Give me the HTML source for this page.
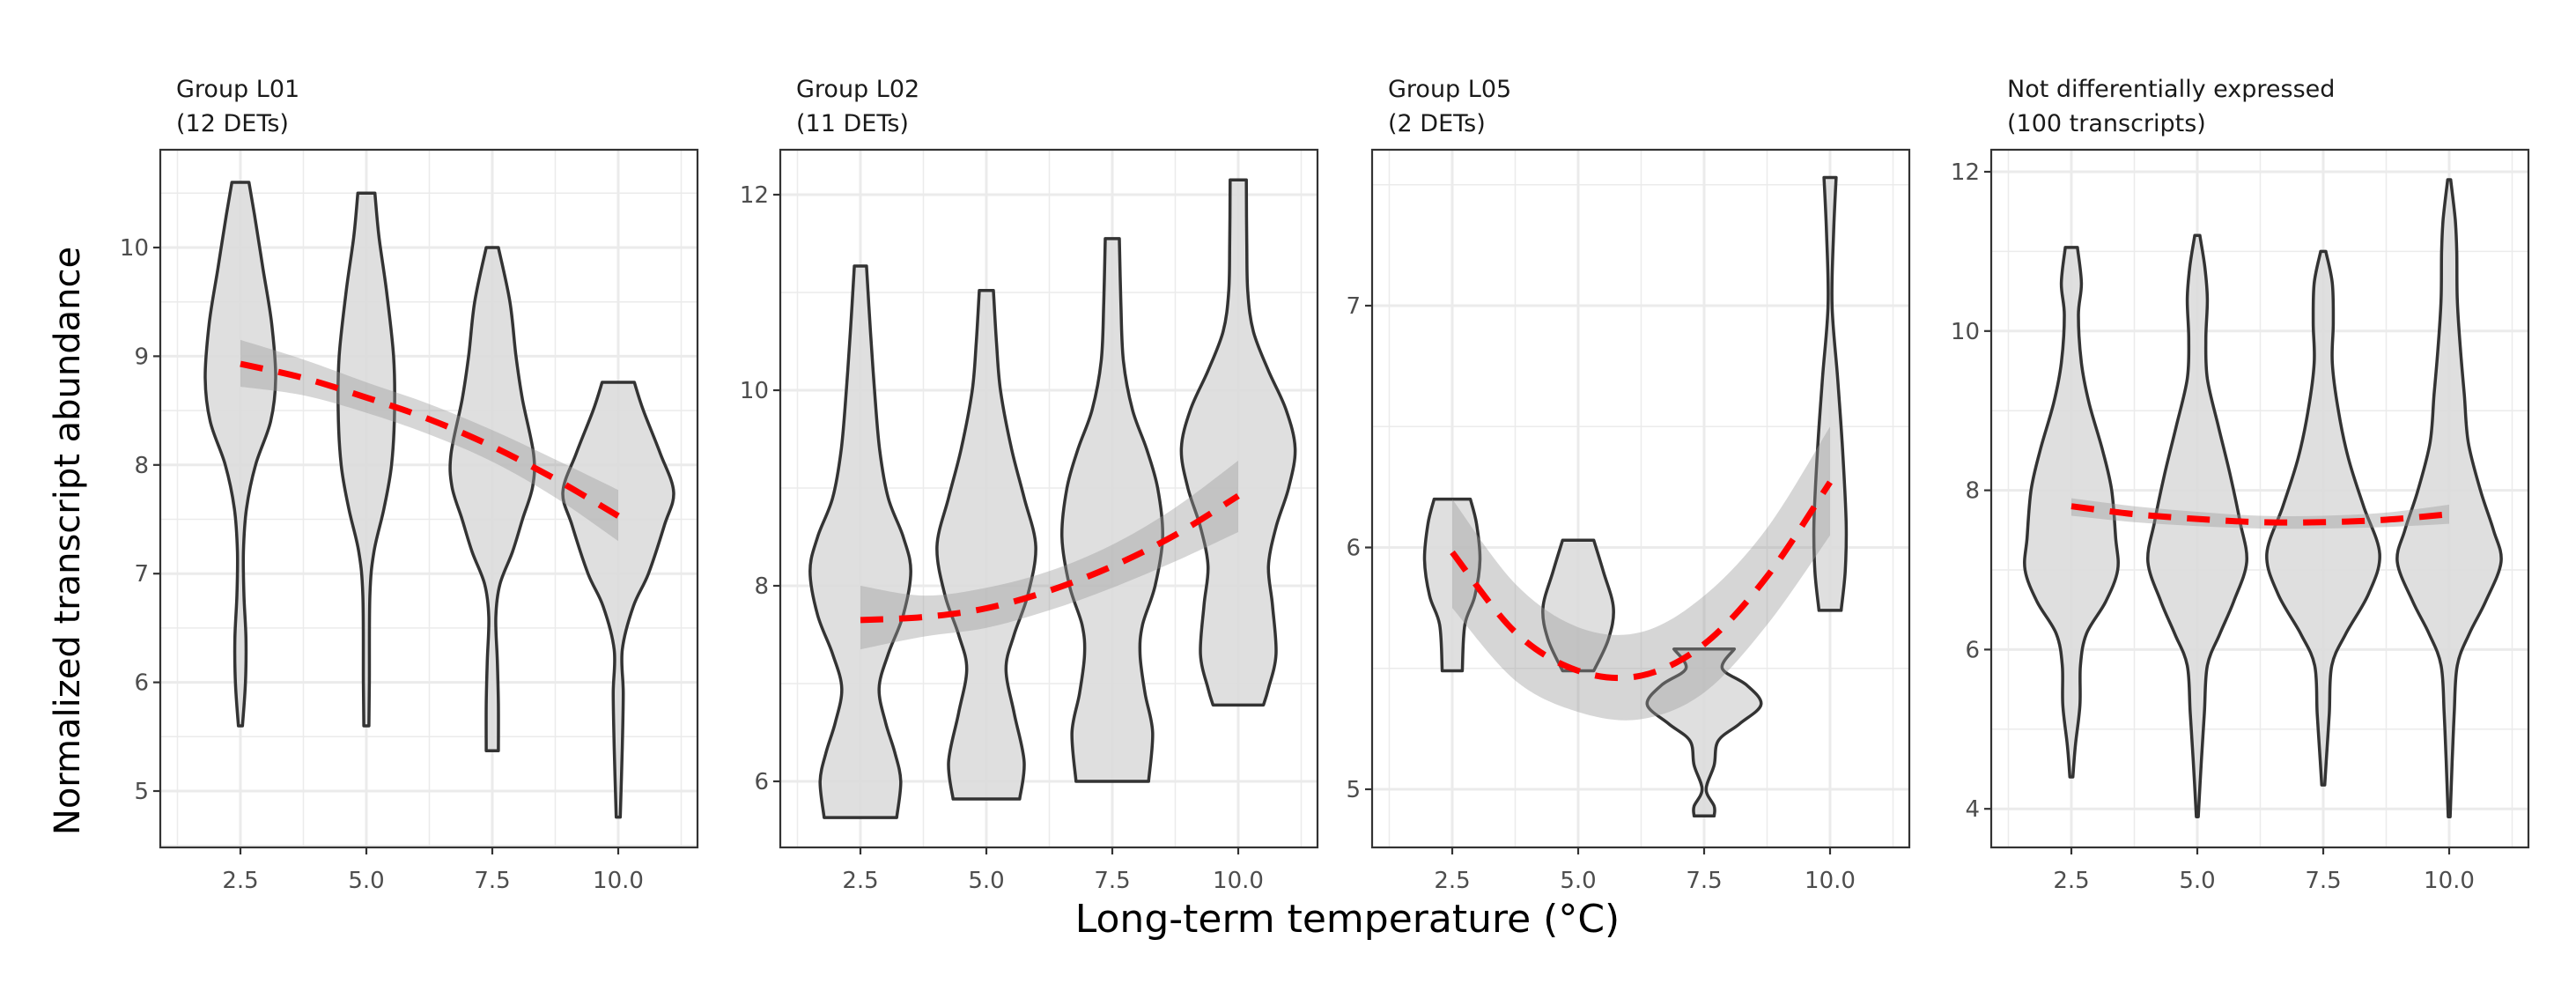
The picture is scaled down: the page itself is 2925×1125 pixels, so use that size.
<!DOCTYPE html>
<html><head><meta charset="utf-8">
<style>
html,body{margin:0;padding:0;background:#fff;}
svg{display:block;font-family:"DejaVu Sans","Liberation Sans",sans-serif;}
</style></head>
<body>
<svg id="chart" width="2925" height="1125" viewBox="0 0 2925 1125" xmlns="http://www.w3.org/2000/svg">
<rect width="2925" height="1125" fill="#fff"/>
<g id="panels"></g>
<text x="0" y="0" transform="translate(90,614) rotate(-90)" text-anchor="middle" font-size="40" fill="#000">Normalized transcript abundance</text>
<text x="1530" y="1058" text-anchor="middle" font-size="44" fill="#000">Long-term temperature (°C)</text>
</svg>
<script>
// ---- data ----
const categories = [2.5, 5.0, 7.5, 10.0];
const xTickLabels = ["2.5", "5.0", "7.5", "10.0"];
const panelTitles = [["Group L01","(12 DETs)"],["Group L02","(11 DETs)"],["Group L05","(2 DETs)"],["Not differentially expressed","(100 transcripts)"]];
const yTicks1 = [5,6,7,8,9,10];
const yTicks2 = [6,8,10,12];
const yTicks3 = [5,6,7];
const yTicks4 = [4,6,8,10,12];
// violin profiles: [value, half-width in x units]
const violins1 = [
 [[10.6,0.17],[10.3,0.28],[9.8,0.45],[9.3,0.62],[8.8,0.7],[8.4,0.6],[8.0,0.3],[7.6,0.12],[7.2,0.06],[6.8,0.07],[6.4,0.11],[6.0,0.1],[5.6,0.04]],
 [[10.5,0.17],[10.1,0.25],[9.6,0.4],[9.0,0.54],[8.5,0.56],[8.0,0.5],[7.6,0.35],[7.2,0.15],[6.8,0.07],[6.0,0.06],[5.6,0.05]],
 [[10.0,0.12],[9.5,0.35],[9.0,0.47],[8.6,0.6],[8.1,0.82],[7.8,0.8],[7.5,0.6],[7.2,0.4],[6.9,0.15],[6.6,0.07],[6.2,0.1],[5.8,0.12],[5.37,0.12]],
 [[8.76,0.32],[8.5,0.5],[8.1,0.84],[7.75,1.1],[7.45,0.92],[7.0,0.6],[6.7,0.3],[6.3,0.08],[5.9,0.1],[5.4,0.08],[4.76,0.04]]
];
const violins2 = [
 [[11.27,0.12],[10.6,0.2],[10.0,0.28],[9.4,0.38],[8.9,0.55],[8.5,0.85],[8.15,1.0],[7.7,0.85],[7.3,0.55],[6.95,0.37],[6.6,0.5],[6.3,0.68],[6.0,0.8],[5.63,0.72]],
 [[11.02,0.14],[10.5,0.2],[10.0,0.28],[9.4,0.5],[8.9,0.75],[8.4,0.98],[7.9,0.82],[7.5,0.55],[7.15,0.39],[6.7,0.55],[6.2,0.75],[5.82,0.66]],
 [[11.55,0.14],[10.9,0.17],[10.3,0.22],[9.8,0.4],[9.4,0.68],[9.0,0.9],[8.5,1.0],[8.0,0.85],[7.6,0.6],[7.3,0.55],[6.9,0.65],[6.5,0.8],[6.0,0.72]],
 [[12.15,0.16],[11.5,0.17],[11.0,0.19],[10.6,0.3],[10.2,0.6],[9.8,0.95],[9.4,1.13],[9.0,1.0],[8.6,0.75],[8.2,0.6],[7.8,0.68],[7.3,0.75],[6.95,0.6],[6.78,0.5]]
];
const violins3 = [
 [[6.2,0.36],[6.1,0.48],[5.95,0.55],[5.8,0.45],[5.68,0.25],[5.49,0.2]],
 [[6.03,0.31],[5.9,0.5],[5.75,0.7],[5.62,0.6],[5.49,0.31]],
 [[5.58,0.6],[5.5,0.36],[5.43,0.85],[5.35,1.13],[5.27,0.7],[5.2,0.28],[5.1,0.2],[5.0,0.04],[4.93,0.2],[4.89,0.2]],
 [[7.53,0.12],[7.3,0.07],[7.0,0.04],[6.7,0.15],[6.4,0.25],[6.1,0.32],[5.9,0.3],[5.74,0.22]]
];
const violins4 = [
 [[11.05,0.12],[10.6,0.2],[10.2,0.14],[9.6,0.2],[9.1,0.35],[8.5,0.62],[8.0,0.8],[7.4,0.88],[7.0,0.92],[6.6,0.68],[6.2,0.3],[5.8,0.18],[5.3,0.17],[4.8,0.08],[4.4,0.03]],
 [[11.2,0.05],[10.8,0.15],[10.4,0.2],[9.9,0.17],[9.4,0.2],[8.8,0.42],[8.2,0.65],[7.6,0.85],[7.1,0.98],[6.6,0.72],[6.2,0.45],[5.8,0.2],[5.2,0.14],[4.6,0.08],[3.9,0.02]],
 [[11.0,0.05],[10.6,0.18],[10.1,0.2],[9.6,0.18],[9.0,0.3],[8.4,0.5],[7.8,0.8],[7.2,1.12],[6.7,0.9],[6.2,0.45],[5.8,0.17],[5.2,0.12],[4.6,0.06],[4.3,0.03]],
 [[11.9,0.03],[11.4,0.12],[11.0,0.15],[10.4,0.16],[9.8,0.22],[9.2,0.3],[8.6,0.38],[8.0,0.62],[7.5,0.88],[7.1,1.03],[6.6,0.72],[6.2,0.4],[5.8,0.16],[5.2,0.1],[4.6,0.06],[3.9,0.02]]
];
const fitX = [2.5,3.75,5,6.25,7.5,8.75,10];
const fit1 = [8.93,8.8,8.62,8.42,8.17,7.87,7.53];
const lo1 = [8.72,8.64,8.48,8.28,8.03,7.7,7.3];
const hi1 = [9.15,8.97,8.76,8.56,8.32,8.05,7.77];
const fit2 = [7.65,7.68,7.77,7.95,8.2,8.52,8.92];
const lo2 = [7.35,7.48,7.57,7.75,7.98,8.25,8.55];
const hi2 = [8.0,7.9,7.98,8.15,8.42,8.8,9.28];
const fit3 = [5.98,5.65,5.49,5.47,5.6,5.88,6.27];
const lo3 = [5.75,5.45,5.32,5.29,5.4,5.68,6.05];
const hi3 = [6.2,5.85,5.67,5.65,5.8,6.08,6.5];
const fit4 = [7.8,7.7,7.64,7.6,7.6,7.63,7.7];
const lo4 = [7.68,7.6,7.55,7.52,7.52,7.54,7.58];
const hi4 = [7.9,7.8,7.73,7.68,7.68,7.72,7.82];

// ---- layout ----
const NS = "http://www.w3.org/2000/svg";
const panelsG = document.getElementById('panels');
const TOP = 170, BOTTOM = 962;
const panelDefs = [
 {left:182, right:792, yRef:10, yRefPx:281, pxPerUnit:123.4, ticks:yTicks1, minor:0.5, v:violins1, fit:fit1, lo:lo1, hi:hi1},
 {left:886, right:1496, yRef:12, yRefPx:221, pxPerUnit:111, ticks:yTicks2, minor:1, v:violins2, fit:fit2, lo:lo2, hi:hi2},
 {left:1558, right:2168, yRef:7, yRefPx:347, pxPerUnit:274.5, ticks:yTicks3, minor:0.5, v:violins3, fit:fit3, lo:lo3, hi:hi3},
 {left:2261, right:2871, yRef:12, yRefPx:195, pxPerUnit:90.4, ticks:yTicks4, minor:1, v:violins4, fit:fit4, lo:lo4, hi:hi4}
];
function mk(tag, attrs, parent){const e=document.createElementNS(NS,tag);for(const k in attrs)e.setAttribute(k,attrs[k]);parent.appendChild(e);return e;}
function smoothPath(pts){
  let d='';
  for(let i=0;i<pts.length-1;i++){
    const p0=pts[Math.max(i-1,0)],p1=pts[i],p2=pts[i+1],p3=pts[Math.min(i+2,pts.length-1)];
    const c1=[p1[0]+(p2[0]-p0[0])/6,p1[1]+(p2[1]-p0[1])/6];
    const c2=[p2[0]-(p3[0]-p1[0])/6,p2[1]-(p3[1]-p1[1])/6];
    d+=` C${c1[0].toFixed(1)},${c1[1].toFixed(1)} ${c2[0].toFixed(1)},${c2[1].toFixed(1)} ${p2[0].toFixed(1)},${p2[1].toFixed(1)}`;
  }
  return d;
}
panelDefs.forEach((P, pi) => {
  const xs = v => P.left + 91 + (v - 2.5) * 57.2;
  const ys = v => P.yRefPx + (P.yRef - v) * P.pxPerUnit;
  const g = mk('g', {}, panelsG);
  
  
  const clipId = 'clip'+pi;
  const cp = mk('clipPath',{id:clipId},g);
  mk('rect',{x:P.left,y:TOP,width:P.right-P.left,height:BOTTOM-TOP},cp);
  const grid = mk('g',{'clip-path':`url(#${clipId})`},g);
  
  
  const vmin = P.yRef - (BOTTOM - P.yRefPx)/P.pxPerUnit, vmax = P.yRef + (P.yRefPx - TOP)/P.pxPerUnit;
  for(let v=Math.ceil(vmin/P.minor)*P.minor; v<=vmax; v+=P.minor){
    const major = P.ticks.some(t=>Math.abs(t-v)<1e-6);
    mk('line',{x1:P.left,x2:P.right,y1:ys(v),y2:ys(v),stroke:'#ebebeb','stroke-width':major?3:1.5},grid);
  }
  [1.25,2.5,3.75,5,6.25,7.5,8.75,10,11.25].forEach(v=>{
    const major = categories.includes(v);
    mk('line',{x1:xs(v),x2:xs(v),y1:TOP,y2:BOTTOM,stroke:'#ebebeb','stroke-width':major?3:1.5},grid);
  });
  const marks = mk('g',{'clip-path':`url(#${clipId})`},g);
  P.v.forEach((prof, vi) => {
    const cx = xs(categories[vi]);
    const right = prof.map(p=>[cx + p[1]*57.2, ys(p[0])]);
    const left = prof.slice().reverse().map(p=>[cx - p[1]*57.2, ys(p[0])]);
    let d = `M${(cx - prof[0][1]*57.2).toFixed(1)},${ys(prof[0][0]).toFixed(1)} L${right[0][0].toFixed(1)},${right[0][1].toFixed(1)}`;
    d += smoothPath(right);
    d += ` L${left[0][0].toFixed(1)},${left[0][1].toFixed(1)}`;
    d += smoothPath(left) + ' Z';
    const path = mk('path',{d:d,fill:'#dcdcdc','fill-opacity':0.9,stroke:'#333','stroke-width':3.5,'stroke-linejoin':'round'},marks);
    
    
  });
  const hiPts = fitX.map((x,i)=>[xs(x), ys(P.hi[i])]);
  const loPts = fitX.map((x,i)=>[xs(x), ys(P.lo[i])]).reverse();
  let rd = `M${hiPts[0][0]},${hiPts[0][1]}` + smoothPath(hiPts) + ` L${loPts[0][0]},${loPts[0][1]}` + smoothPath(loPts) + ' Z';
  const rib = mk('path',{d:rd,fill:'#999','fill-opacity':0.4},marks);
  
  
  const fPts = fitX.map((x,i)=>[xs(x), ys(P.fit[i])]);
  const fl = mk('path',{d:`M${fPts[0][0]},${fPts[0][1]}`+smoothPath(fPts),fill:'none',stroke:'#ff0000','stroke-width':7,'stroke-dasharray':'26 18'},marks);
  
  
  const br = mk('rect',{x:P.left,y:TOP,width:P.right-P.left,height:BOTTOM-TOP,fill:'none',stroke:'#333','stroke-width':2.2},g);
  
  
  P.ticks.forEach(t=>{
    mk('line',{x1:P.left-8,x2:P.left,y1:ys(t),y2:ys(t),stroke:'#333','stroke-width':2.2},g);
    const tx = mk('text',{x:P.left-13,y:ys(t)+9,'text-anchor':'end','font-size':26,fill:'#4d4d4d'},g);
    tx.textContent = String(t);
    
    
  });
  categories.forEach((c,ci)=>{
    mk('line',{x1:xs(c),x2:xs(c),y1:BOTTOM,y2:BOTTOM+8,stroke:'#333','stroke-width':2.2},g);
    const tx = mk('text',{x:xs(c),y:BOTTOM+46,'text-anchor':'middle','font-size':26,fill:'#4d4d4d'},g);
    tx.textContent = xTickLabels[ci];
    
    
  });
  panelTitles[pi].forEach((line,li)=>{
    const tx = mk('text',{x:P.left+18,y:110+li*39,'font-size':27,fill:'#1a1a1a'},g);
    tx.textContent = line;
    
    
  });
});
</script>
</body></html>
